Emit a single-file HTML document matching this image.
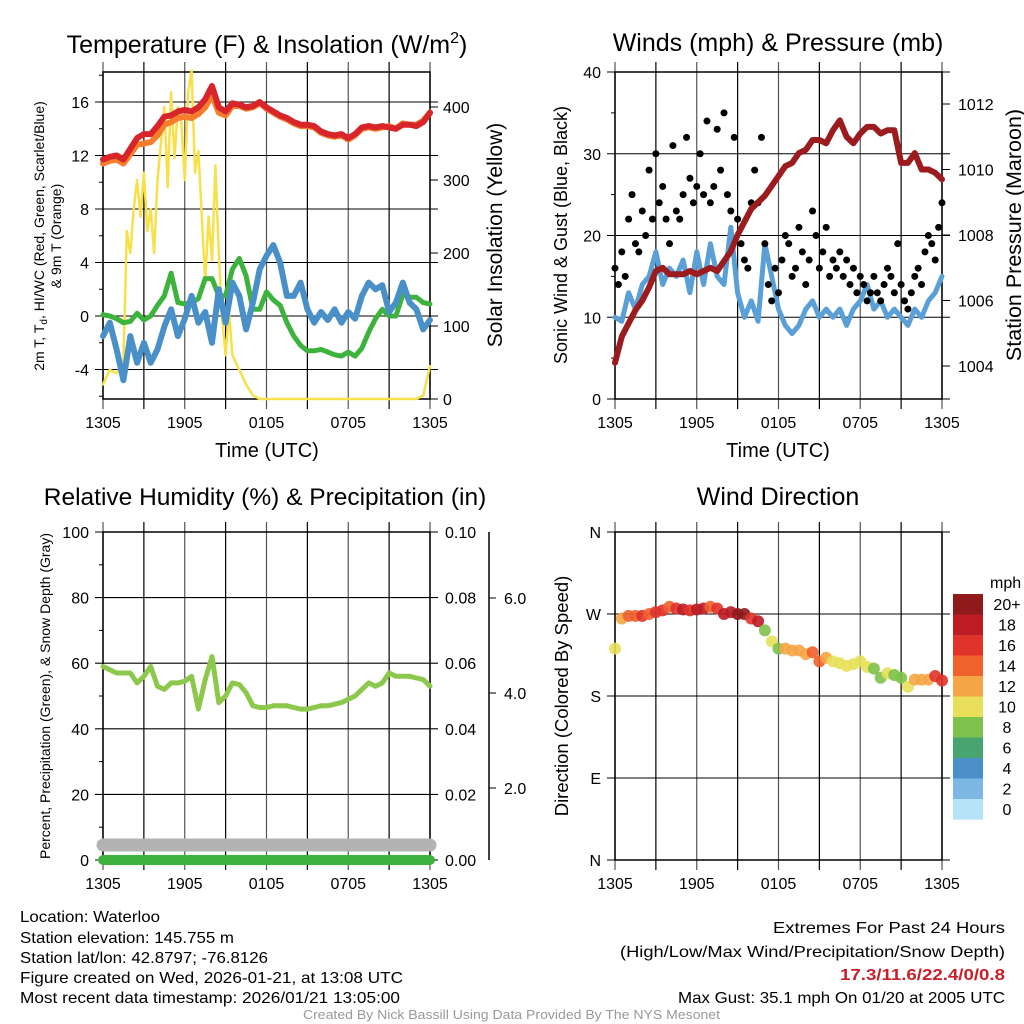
<!DOCTYPE html>
<html><head><meta charset="utf-8"><style>
body{margin:0;background:#fff}
svg{display:block;font-family:"Liberation Sans",sans-serif}
</style></head><body>
<svg id="s" width="1024" height="1024" viewBox="0 0 1024 1024">
<g id="static">
<text x="267" y="53" font-size="25" text-anchor="middle">Temperature (F) &amp; Insolation (W/m<tspan dy="-10" font-size="16">2</tspan><tspan dy="10">)</tspan></text>
<text x="778" y="51" font-size="25" text-anchor="middle">Winds (mph) &amp; Pressure (mb)</text>
<text x="265" y="505" font-size="24.5" text-anchor="middle">Relative Humidity (%) &amp; Precipitation (in)</text>
<text x="778" y="505" font-size="25" text-anchor="middle">Wind Direction</text>
<text x="267" y="457" font-size="20" text-anchor="middle">Time (UTC)</text>
<text x="778" y="457" font-size="20" text-anchor="middle">Time (UTC)</text>
<text transform="translate(44,236) rotate(-90)" font-size="14" text-anchor="middle">2m T, T<tspan dy="3" font-size="10">d</tspan><tspan dy="-3">, HI/WC (Red, Green, Scarlet/Blue)</tspan></text>
<text transform="translate(61,236) rotate(-90)" font-size="14" text-anchor="middle">&amp; 9m T (Orange)</text>
<text transform="translate(502,235) rotate(-90)" font-size="21" text-anchor="middle">Solar Insolation (Yellow)</text>
<text transform="translate(567,235) rotate(-90)" font-size="18" text-anchor="middle">Sonic Wind &amp; Gust (Blue, Black)</text>
<text transform="translate(1021,235) rotate(-90)" font-size="21.5" text-anchor="middle">Station Pressure (Maroon)</text>
<text transform="translate(50,696) rotate(-90)" font-size="14" text-anchor="middle">Percent, Precipitation (Green), &amp; Snow Depth (Gray)</text>
<text transform="translate(568,696) rotate(-90)" font-size="18.5" text-anchor="middle">Direction (Colored By Speed)</text>
<g font-size="16">
<text x="20" y="922" textLength="140" lengthAdjust="spacingAndGlyphs">Location: Waterloo</text>
<text x="20" y="943" textLength="214" lengthAdjust="spacingAndGlyphs">Station elevation: 145.755 m</text>
<text x="20" y="963" textLength="248" lengthAdjust="spacingAndGlyphs">Station lat/lon: 42.8797; -76.8126</text>
<text x="20" y="983" textLength="383" lengthAdjust="spacingAndGlyphs">Figure created on Wed, 2026-01-21, at 13:08 UTC</text>
<text x="20" y="1003" textLength="380" lengthAdjust="spacingAndGlyphs">Most recent data timestamp: 2026/01/21 13:05:00</text>
</g>
<g font-size="16">
<text x="773" y="933" textLength="232" lengthAdjust="spacingAndGlyphs">Extremes For Past 24 Hours</text>
<text x="620" y="957" textLength="385" lengthAdjust="spacingAndGlyphs">(High/Low/Max Wind/Precipitation/Snow Depth)</text>
<text x="840" y="980" textLength="165" lengthAdjust="spacingAndGlyphs" fill="#c8202a" font-weight="bold">17.3/11.6/22.4/0/0.8</text>
<text x="678" y="1003" textLength="327" lengthAdjust="spacingAndGlyphs">Max Gust: 35.1 mph On 01/20 at 2005 UTC</text>
</g>
<text x="303" y="1019" font-size="13" fill="#999" textLength="417" lengthAdjust="spacingAndGlyphs">Created By Nick Bassill Using Data Provided By The NYS Mesonet</text>
</g>
</svg>
<script>
// ---- data (hours since 1305 UTC, every 0.5 h) ----
const xTickLabels=["1305","1905","0105","0705","1305"];
const tempT=[11.7,11.9,12.0,11.7,12.5,13.3,13.6,13.6,14.2,14.9,15.0,15.3,15.4,15.3,15.6,16.2,17.2,15.6,15.3,15.9,15.8,15.6,15.7,16.0,15.6,15.3,15.0,14.8,14.5,14.3,14.3,14.2,13.8,13.6,13.5,13.6,13.3,13.6,14.1,14.2,14.1,14.2,14.1,14.0,14.3,14.3,14.2,14.5,15.2];
const temp9m=[11.4,11.6,11.7,11.4,12.1,12.8,12.9,13.0,13.5,14.3,14.5,14.8,14.9,14.8,15.1,15.6,16.5,15.2,15.0,15.7,15.7,15.5,15.6,15.9,15.5,15.2,14.9,14.7,14.4,14.2,14.2,14.1,13.7,13.5,13.4,13.5,13.2,13.5,14.0,14.1,14.0,14.1,14.2,14.0,14.4,14.3,14.3,14.6,15.2];
const dewT=[0.1,0.0,-0.2,-0.5,-0.4,0.2,-0.3,0.0,0.8,1.5,3.2,1.0,0.9,1.0,1.3,2.8,2.8,1.5,1.5,3.5,4.3,3.0,0.5,0.5,1.8,1.2,0.8,-0.5,-1.5,-2.2,-2.6,-2.6,-2.5,-2.7,-2.9,-3.0,-2.7,-3.0,-2.4,-1.2,-0.2,0.5,0.0,0.0,1.6,1.4,1.4,1.0,0.9];
const windChill=[-1.5,-0.5,-2.5,-4.8,-1.5,-3.5,-2.0,-3.5,-2.5,-0.8,0.5,-1.5,-0.2,1.5,-0.5,0.3,-2.0,2.0,-0.5,2.5,1.5,-1.0,1.0,3.5,4.5,5.3,4.0,1.5,1.5,2.5,0.5,-0.5,0.3,-0.3,0.5,-0.5,0.3,-0.2,1.5,2.5,2.0,2.3,0.3,1.0,2.5,1.0,0.5,-1.0,-0.3];
const solarHours=[0,0.5,1,1.5,1.75,2,2.25,2.5,2.75,3,3.25,3.5,3.75,4,4.25,4.5,4.75,5,5.25,5.5,5.75,6,6.25,6.5,6.75,7,7.25,7.5,7.75,8,8.25,8.5,8.75,9,9.25,9.5,9.75,10,10.5,11,11.5,23,23.5,24];
const solarW=[20,40,35,50,230,200,260,300,250,310,230,260,200,300,350,400,290,420,330,400,380,300,420,450,310,340,250,160,250,190,320,200,110,60,120,60,50,40,20,5,0,0,5,45];
const pressure=[1004.1,1004.9,1005.3,1005.7,1006.0,1006.4,1006.9,1007.0,1006.8,1006.8,1006.8,1006.9,1006.8,1006.9,1007.0,1006.9,1007.2,1007.5,1008.0,1008.4,1008.8,1009.0,1009.2,1009.5,1009.8,1010.1,1010.2,1010.5,1010.6,1010.9,1010.9,1010.8,1011.2,1011.5,1011.0,1010.8,1011.1,1011.3,1011.3,1011.1,1011.2,1011.2,1010.2,1010.2,1010.5,1010.0,1010.0,1009.9,1009.7];
const windSpeed=[10,9.5,13,11,14,15,18,14,16,15,17,13,18,14,19,15,14,21,13,10,12,9.5,19,15,11,9,8,9,11,12,10,11,10,11,9,11,12,14,11,12,10,11,10,9,11,10,12,13,15];
const gusts=[16,14,18,15,22, 25,19,18,23, 20,28,22,30, 24,26,22,19, 31,23,22,25, 32,27,24,26, 30,25,34,24, 26,33,28,35, 25,23,32,22, 19,17,16,24, 28,24,32,19, 14,12,16,13, 17,20,19,15, 16,21,18,14, 17,23,20,16, 18,21,15,17, 16,18,15,17, 14,16,13,15, 14,12,13,15, 13,12,14,16, 15,13,19,14, 12,11,13,15, 16,14,18,20, 19,17,21,24];
const rh=[59,58,57,57,57,54,56,59,53,52,54,54,54.5,56,46,55,62,48,50,54,53.5,51,47,46.5,46.5,47,47,47,46.5,46,46,46.5,47,47,47.5,48,49,50,52,54,53,54,57,56,56,56,55.5,55,53];
const precip=[0,0,0,0,0,0,0,0,0,0,0,0,0,0,0,0,0,0,0,0,0,0,0,0,0,0,0,0,0,0,0,0,0,0,0,0,0,0,0,0,0,0,0,0,0,0,0,0,0];
const snowDepth=[0.8,0.8,0.8,0.8,0.8,0.8,0.8,0.8,0.8,0.8,0.8,0.8,0.8,0.8,0.8,0.8,0.8,0.8,0.8,0.8,0.8,0.8,0.8,0.8,0.8,0.8,0.8,0.8,0.8,0.8,0.8,0.8,0.8,0.8,0.8,0.8,0.8,0.8,0.8,0.8,0.8,0.8,0.8,0.8,0.8,0.8,0.8,0.8,0.8];
const windDir=[232,265,268,268,268,270,272,274,278,276,275,274,275,276,278,276,270,272,270,270,265,262,252,240,232,232,230,230,226,228,218,222,218,216,213,215,218,212,210,200,205,203,200,190,198,198,198,202,197];
const dirSpeed=[10,12,15,14,16,15,17,16,15,16,18,17,19,18,15,16,19,18,20,20,17,18,8,10,9,12,13,13,12,14,15,12,11,11,10,11,10,10,9,8,10,9,8,10,12,12,13,16,17];
const colorLabels=["20+","18","16","14","12","10","8","6","4","2","0"];
const colorBins=["#8f1a1c","#bd1c24","#e0332a","#f0612b","#f5a545","#e8e05a","#7dc24b","#48a56f","#4a8fc8","#7cb8e3","#b6e2f7"];

const NS="http://www.w3.org/2000/svg";
const svg=document.getElementById('s');
function mk(tag,attrs,parent){const e=document.createElementNS(NS,tag);for(const k in attrs)e.setAttribute(k,attrs[k]);(parent||svg).appendChild(e);return e;}
function hrs(n){const a=[];for(let i=0;i<n;i++)a.push(i*24/(n-1));return a;}
const FS=16;

function frame(x0,x1,y0,y1,name,yticks,yfn,ylab,minorY){
  const g=mk('g',{});
  
  
  for(let i=0;i<=8;i++){const x=x0+(x1-x0)*i/8;
    const l=mk('line',{x1:x,x2:x,y1:y0-10,y2:y1+10,stroke:i%2?'#000':'#555','stroke-width':1.2},g);
    }
  xTickLabels.forEach((t,i)=>{const x=x0+(x1-x0)*i/4;
    const e=mk('text',{x:x,y:y1+29,'font-size':FS,'text-anchor':'middle'},g);e.textContent=t;
    });
  yticks.forEach((v,i)=>{const y=yfn(v);
    const l=mk('line',{x1:x0-8,x2:x1+8,y1:y,y2:y,stroke:'#000','stroke-width':1.1},g);
    
    const e=mk('text',{x:x0-14,y:y+6,'font-size':FS,'text-anchor':'end'},g);e.textContent=ylab[i];
    });
  (minorY||[]).forEach(v=>{const y=yfn(v);mk('line',{x1:x0-4,x2:x0,y1:y,y2:y,stroke:'#000'},g);});
  mk('rect',{x:x0,y:y0,width:x1-x0,height:y1-y0,fill:'none',stroke:'#000','stroke-width':1.5},g);
}
function path(xs,ys,xf,yf,attrs,name){let d='';xs.forEach((h,i)=>{d+=(i?'L':'M')+xf(h).toFixed(1)+','+yf(ys[i]).toFixed(1);});
  const p=mk('path',Object.assign({d:d,fill:'none','stroke-linejoin':'round','stroke-linecap':'round'},attrs));
  return p;}

// ---- Temperature panel ----
const tx=h=>103+h*327/24, ty=v=>316-v*13.375, sy=w=>399-w*0.73;
frame(103,430,72,399,'temp',[-4,0,4,8,12,16],ty,['-4','0','4','8','12','16'],[-6,-2,2,6,10,14,18]);
[0,100,200,300,400].forEach(w=>{const y=sy(w);mk('line',{x1:430,x2:438,y1:y,y2:y,stroke:'#000'});
  const e=mk('text',{x:443,y:y+6,'font-size':FS});e.textContent=w;
  });
const H49=hrs(49);
path(solarHours,solarW,tx,sy,{stroke:'#f7e04a','stroke-width':2.5},'insolation-line');
path(H49,temp9m,tx,ty,{stroke:'#f57d2c','stroke-width':6},'9m-temp-line');
path(H49,tempT,tx,ty,{stroke:'#d7252a','stroke-width':6},'2m-temp-line');
path(H49,dewT,tx,ty,{stroke:'#3db23c','stroke-width':5},'dewpoint-line');
path(H49,windChill,tx,ty,{stroke:'#4a90c8','stroke-width':6},'windchill-line');

// ---- Wind panel ----
const wx=h=>615+h*327/24, wy=v=>399-v*8.175, py=p=>366-(p-1004)*32.75;
frame(615,942,72,399,'wind',[0,10,20,30,40],wy,['0','10','20','30','40'],[5,15,25,35]);
[1004,1006,1008,1010,1012].forEach(p=>{const y=py(p);mk('line',{x1:942,x2:950,y1:y,y2:y,stroke:'#000'});
  const e=mk('text',{x:958,y:y+6,'font-size':FS});e.textContent=p;
  });
path(H49,windSpeed,wx,wy,{stroke:'#5a9fd6','stroke-width':5},'sonic-wind-line');
const H97=hrs(97);
gusts.forEach((g,i)=>{const c=mk('circle',{cx:wx(H97[i]),cy:wy(g),r:3.5,fill:'#000'});
  });
path(H49,pressure,wx,py,{stroke:'#9b1b1e','stroke-width':6},'pressure-line');

// ---- RH panel ----
const rx=tx, ry=v=>860-v*3.28, qy=v=>860-v*3280, sny=v=>883-v*47.5;
frame(103,430,532,860,'rh',[0,20,40,60,80,100],ry,['0','20','40','60','80','100'],[10,30,50,70,90]);
[0,0.02,0.04,0.06,0.08,0.10].forEach(v=>{const y=qy(v);
  const e=mk('text',{x:445,y:y+6,'font-size':FS});e.textContent=v.toFixed(2);
  });
const sa=mk('line',{x1:489,x2:489,y1:532,y2:860,stroke:'#000','stroke-width':1.5});

[2,4,6].forEach(v=>{const y=sny(v);mk('line',{x1:489,x2:496,y1:y,y2:y,stroke:'#000'});
  const e=mk('text',{x:504,y:y+6,'font-size':FS});e.textContent=v.toFixed(1);
  });
path(H49,snowDepth,rx,sny,{stroke:'#b3b3b3','stroke-width':13},'snow-depth-line');
path(H49,precip,rx,qy,{stroke:'#3db23c','stroke-width':10},'precip-line');
path(H49,rh,rx,ry,{stroke:'#8cc84b','stroke-width':5},'rh-line');

// ---- Direction panel ----
const dx=wx, dy=d=>860-d*328/360;
frame(615,942,532,860,'direction',[0,90,180,270,360],dy,['N','E','S','W','N']);
function binColor(s){let k=Math.min(10,Math.floor(s/2));return colorBins[10-k];}
windDir.forEach((d,i)=>{const c=mk('circle',{cx:dx(H49[i]),cy:dy(d),r:6,fill:binColor(dirSpeed[i]),'fill-opacity':0.9});
  });
const mph=mk('text',{x:990,y:588,'font-size':FS});mph.textContent='mph';

colorBins.forEach((c,i)=>{const y=594+i*20.5;
  const r=mk('rect',{x:953,y:y,width:30,height:20.6,fill:c});
  
  const t=mk('text',{x:1007,y:y+16,'font-size':FS,'text-anchor':'middle'});t.textContent=colorLabels[i];
  });
</script>
</body></html>
